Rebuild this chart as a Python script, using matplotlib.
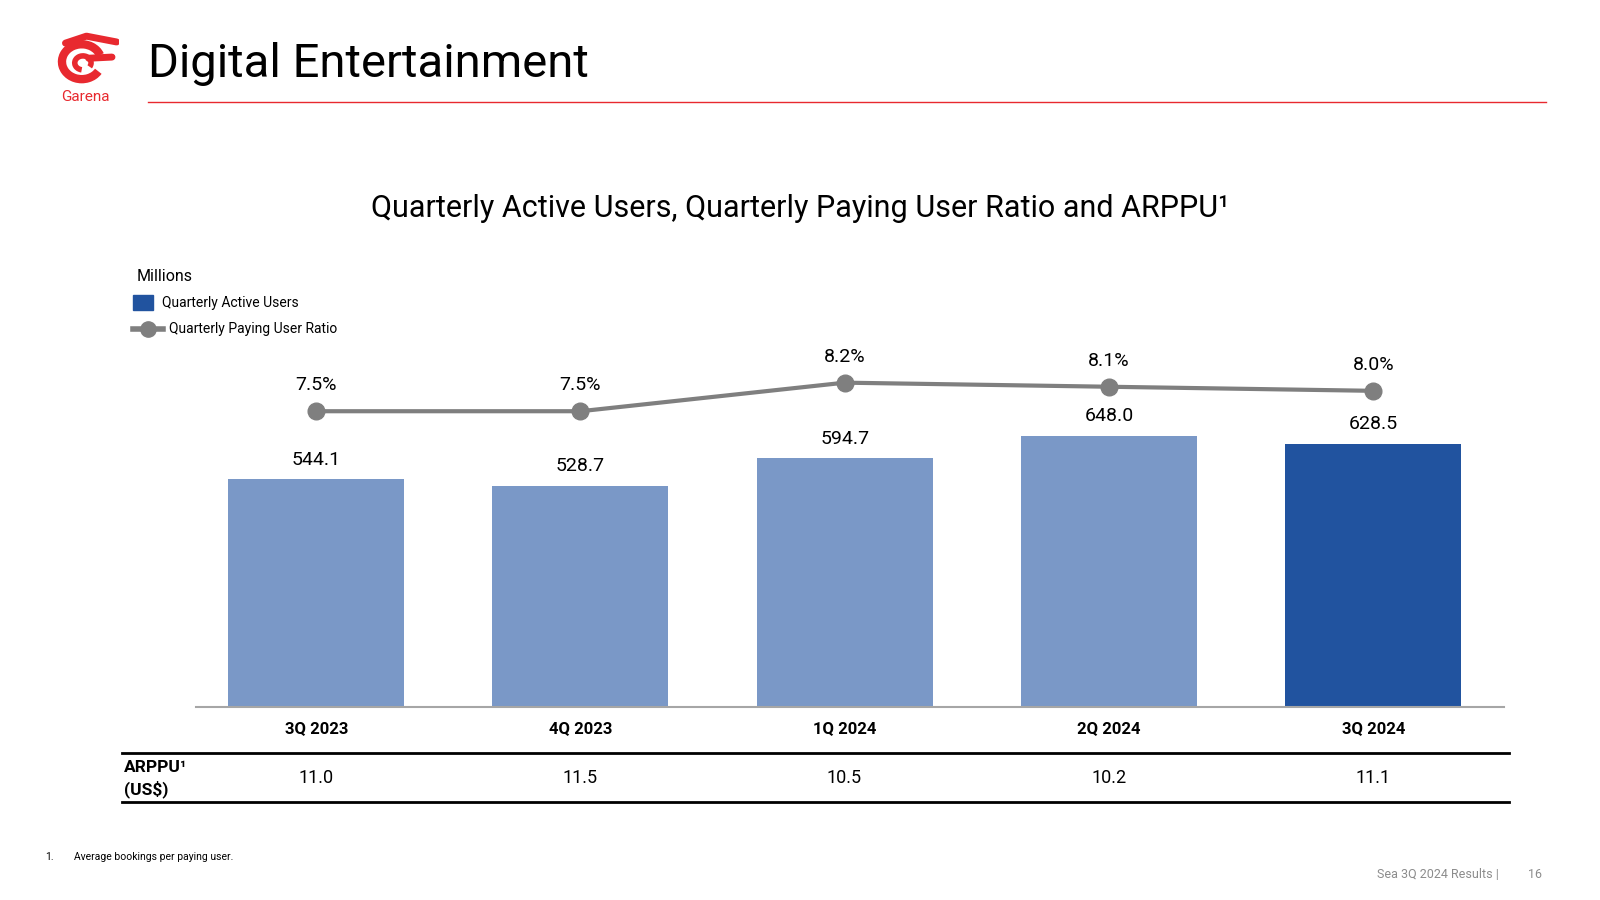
import matplotlib.pyplot as plt
from matplotlib.patches import Arc, Rectangle
from matplotlib.lines import Line2D

plt.rcParams['font.family'] = ['Roboto', 'DejaVu Sans']

# Data
quarters = ['3Q 2023', '4Q 2023', '1Q 2024', '2Q 2024', '3Q 2024']
activeUsers = [544.1, 528.7, 594.7, 648.0, 628.5]
payingRatio = [7.5, 7.5, 8.2, 8.1, 8.0]
arppu = [11.0, 11.5, 10.5, 10.2, 11.1]

lightBlue = '#7a98c7'
darkBlue = '#21539f'
grey = '#7f7f7f'
red = '#e8292f'

fig = plt.figure(figsize=(16, 9), dpi=100)

# Header
fig.text(0.0925, 0.929, 'Digital Entertainment', fontsize=34, va='center', ha='left')
fig.add_artist(Line2D([0.0925, 0.966], [0.887, 0.887], color=red, lw=1))
fig.text(0.0535, 0.892, 'Garena', fontsize=11, color=red, ha='center', va='center')

# simple stand-in for the Garena logo
logo = fig.add_axes([0.030, 0.903, 0.048, 0.062])
logo.set_xlim(-1.2, 1.6)
logo.set_ylim(-1.2, 1.2)
logo.set_aspect('equal')
logo.axis('off')
logo.add_patch(Arc((0, -0.1), 1.7, 1.5, theta1=20, theta2=330, color=red, lw=6))
logo.add_patch(Arc((0.05, -0.15), 0.7, 0.6, theta1=-30, theta2=260, color=red, lw=4))
logo.plot([-0.7, 0.2, 1.5], [0.7, 1.0, 0.75], color=red, lw=5, solid_capstyle='round')
logo.plot([0.3, 1.3], [0.05, 0.1], color=red, lw=5, solid_capstyle='round')

# Chart title
fig.text(0.5, 0.768, 'Quarterly Active Users, Quarterly Paying User Ratio and ARPPU\u00b9',
         fontsize=22, ha='center', va='center')

# Main chart
ax = fig.add_axes([0.1225, 0.2144, 0.8175, 0.4189])
x = list(range(len(quarters)))
barColors = [lightBlue] * 4 + [darkBlue]
ax.bar(x, activeUsers, width=0.666, color=barColors, zorder=2)
ax.set_xlim(-0.455, 4.495)
ax.set_ylim(0, 901)
for i in x:
    ax.text(i, activeUsers[i] + 47, '%.1f' % activeUsers[i], ha='center', va='center', fontsize=14)

for s in ['top', 'right', 'left']:
    ax.spines[s].set_visible(False)
ax.spines['bottom'].set_color('#a6a6a6')
ax.spines['bottom'].set_linewidth(1.5)
ax.set_yticks([])
ax.set_xticks(x)
ax.set_xticklabels(quarters, fontsize=12, fontweight='bold')
ax.tick_params(axis='x', length=0, pad=10)

# Paying user ratio on its own axis
ax2 = ax.twinx()
ax2.set_ylim(0.25, 9.49)
ax2.plot(x, payingRatio, color=grey, lw=3, marker='o', markersize=12, zorder=3)
for i in x:
    ax2.text(i, payingRatio[i] + 0.64, '%.1f%%' % payingRatio[i], ha='center', va='center', fontsize=14)
ax2.axis('off')

# Legend
fig.text(0.0855, 0.6925, 'Millions', fontsize=11.5, va='center')
fig.add_artist(Rectangle((0.0833, 0.6555), 0.0122, 0.0165, color=darkBlue))
fig.text(0.101, 0.663, 'Quarterly Active Users', fontsize=10, va='center')
fig.add_artist(Line2D([0.0833, 0.102], [0.635, 0.635], color=grey, lw=4))
fig.add_artist(Line2D([0.0925], [0.635], color=grey, marker='o', markersize=11))
fig.text(0.1055, 0.635, 'Quarterly Paying User Ratio', fontsize=10, va='center')

# ARPPU table under the chart
fig.add_artist(Line2D([0.0765, 0.943], [0.163, 0.163], color='black', lw=2))
fig.add_artist(Line2D([0.0765, 0.943], [0.109, 0.109], color='black', lw=2))
fig.text(0.0775, 0.147, 'ARPPU\u00b9', fontsize=12.5, fontweight='bold', va='center')
fig.text(0.0775, 0.123, '(US$)', fontsize=12.5, fontweight='bold', va='center')
for i in x:
    xf = (316 + 264.25 * i) / 1600
    fig.text(xf, 0.1355, '%.1f' % arppu[i], fontsize=13, ha='center', va='center')

# Footer
fig.text(0.0285, 0.048, '1.', fontsize=7.5, va='center')
fig.text(0.0465, 0.048, 'Average bookings per paying user.', fontsize=7.5, va='center')
fig.text(0.9365, 0.028, 'Sea 3Q 2024 Results |', fontsize=9, color='#8c8c8c', ha='right', va='center')
fig.text(0.9595, 0.028, '16', fontsize=9, color='#8c8c8c', va='center', ha='center')

fig.savefig('out.png', dpi=100)
